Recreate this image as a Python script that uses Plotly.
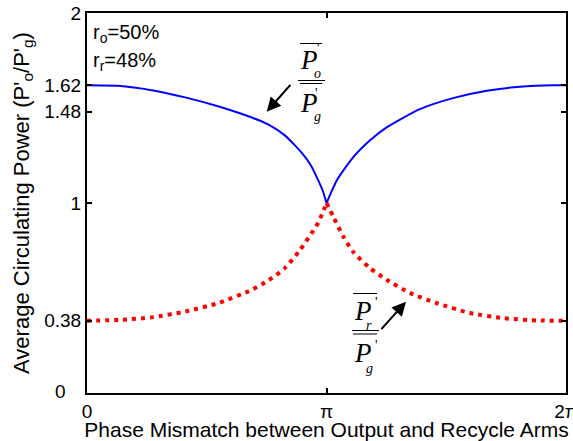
import numpy as np
import plotly.graph_objects as go

# Phase values are given in units of pi
blue_left_x = [0, 0.129, 0.27, 0.41, 0.55, 0.688, 0.756, 0.826, 0.898, 0.935, 0.965, 0.985, 1.0]
blue_left_y = [1.62, 1.617, 1.594, 1.556, 1.508, 1.450, 1.414, 1.356, 1.262, 1.197, 1.12, 1.062, 1.0]
blue_right_x = [1.0, 1.043, 1.111, 1.182, 1.251, 1.390, 1.528, 1.669, 1.808, 1.946, 2.0]
blue_right_y = [1.0, 1.119, 1.240, 1.330, 1.398, 1.494, 1.552, 1.591, 1.612, 1.620, 1.62]

red_left_x = [0, 0.139, 0.271, 0.41, 0.548, 0.688, 0.758, 0.826, 0.889, 0.945, 0.966, 0.981, 1.0]
red_left_y = [0.38, 0.385, 0.398, 0.429, 0.473, 0.543, 0.593, 0.657, 0.752, 0.855, 0.898, 0.94, 1.0]
red_right_x = [1.0, 1.028, 1.070, 1.112, 1.182, 1.251, 1.349, 1.460, 1.599, 1.738, 1.878, 2.0]
red_right_y = [1.0, 0.929, 0.824, 0.742, 0.657, 0.596, 0.526, 0.473, 0.421, 0.394, 0.382, 0.38]

y_tickvals = [0, 0.38, 1, 1.48, 1.62, 2]
y_ticktext = ["", "0.38", "1", "1.48", "1.62", "2"]
x_tickvals_pi = [0, 1, 2]
x_ticktext = ["0", "π", "2π"]

PI = np.pi
def rad(v):
    return [a * PI for a in v]

fig = go.Figure()
for xs, ys in [(blue_left_x, blue_left_y), (blue_right_x, blue_right_y)]:
    fig.add_trace(go.Scatter(x=rad(xs), y=ys, mode="lines",
                             line=dict(color="#0000ff", width=2, shape="spline", smoothing=0.6),
                             showlegend=False, hoverinfo="skip"))
for xs, ys in [(red_left_x, red_left_y), (red_right_x, red_right_y)]:
    fig.add_trace(go.Scatter(x=rad(xs), y=ys, mode="lines",
                             line=dict(color="#ff0000", width=4, dash="4px,5px", shape="spline", smoothing=0.6),
                             showlegend=False, hoverinfo="skip"))

# plot area in pixels
L, R, T, B = 87, 566, 13, 393
W, H = 573, 441
def px(x):
    return (x - L) / (R - L)
def py(y):
    return (B - y) / (B - T)

SANS = "Liberation Sans, Arial, sans-serif"
SERIF = "Liberation Serif, Times New Roman, serif"

ann = []
def txt(x, y, s, size, family=SANS, xanchor="center"):
    ann.append(dict(x=px(x), y=py(y), xref="paper", yref="paper", text=s, showarrow=False,
                    font=dict(family=family, size=size, color="black"),
                    xanchor=xanchor, yanchor="middle"))

txt(60, 391, "0", 19)
txt(91, 33, "r<sub>o</sub>=50%", 20, xanchor="left")
txt(91, 62, "r<sub>r</sub>=48%", 20, xanchor="left")

# blue fraction label
txt(309, 60, "<i>P</i>", 27, SERIF)
txt(318, 49, "'", 14, SERIF)
txt(317, 73, "<i>o</i>", 14, SERIF)
txt(309, 103, "<i>P</i>", 27, SERIF)
txt(316, 93, "'", 14, SERIF)
txt(317, 117, "<i>g</i>", 14, SERIF)
# red fraction label
txt(363, 311, "<i>P</i>", 27, SERIF)
txt(376, 302, "'", 14, SERIF)
txt(369, 325, "<i>r</i>", 14, SERIF)
txt(363, 353, "<i>P</i>", 27, SERIF)
txt(376, 345, "'", 14, SERIF)
txt(369, 368, "<i>g</i>", 14, SERIF)

# arrows
def arrow(hx, hy, tx, ty):
    ann.append(dict(x=px(hx), y=py(hy), xref="paper", yref="paper", text="",
                    showarrow=True, ax=tx - hx, ay=ty - hy, axref="pixel", ayref="pixel",
                    arrowhead=2, arrowsize=1.4, arrowwidth=2, arrowcolor="black", standoff=0))
arrow(266.7, 111.7, 291.7, 83.3)
arrow(406, 301.7, 380, 330.7)

shapes = []
def hline(x0, x1, y):
    shapes.append(dict(type="line", xref="paper", yref="paper", x0=px(x0), x1=px(x1),
                       y0=py(y), y1=py(y), line=dict(color="black", width=1)))
hline(300, 322, 43.5)
hline(298, 325, 80.5)
hline(300, 322, 83.5)
hline(353, 377, 293.5)
hline(352, 379, 330.5)
hline(353, 377, 334)

fig.update_layout(
    width=W, height=H,
    margin=dict(l=L, r=W - R, t=T, b=H - B, autoexpand=False),
    paper_bgcolor="white", plot_bgcolor="white",
    font=dict(family=SANS, size=19, color="black"),
    annotations=ann, shapes=shapes,
)
fig.update_xaxes(range=[0, 2 * PI], tickvals=rad(x_tickvals_pi), ticktext=x_ticktext,
                 showline=True, linecolor="black", linewidth=2, mirror="ticks",
                 ticks="inside", ticklen=5, tickwidth=1.5, tickcolor="black",
                 showgrid=False, zeroline=False, tickfont=dict(size=19), automargin=False,
                 ticklabeloverflow="allow",
                 title=dict(text="Phase Mismatch between Output and Recycle Arms",
                            font=dict(size=21), standoff=0))
fig.update_yaxes(range=[0, 2], tickvals=y_tickvals, ticktext=y_ticktext,
                 showline=True, linecolor="black", linewidth=2, mirror="ticks",
                 ticks="inside", ticklen=5, tickwidth=1.5, tickcolor="black",
                 showgrid=False, zeroline=False, tickfont=dict(size=19), automargin=False,
                 ticklabeloverflow="allow",
                 title=dict(text="Average Circulating Power (P'<sub>o</sub>/P'<sub>g</sub>)",
                            font=dict(size=22), standoff=9))

fig.write_html("out.html", config={"displayModeBar": False},
               post_script="document.body.style.margin='0px';")
